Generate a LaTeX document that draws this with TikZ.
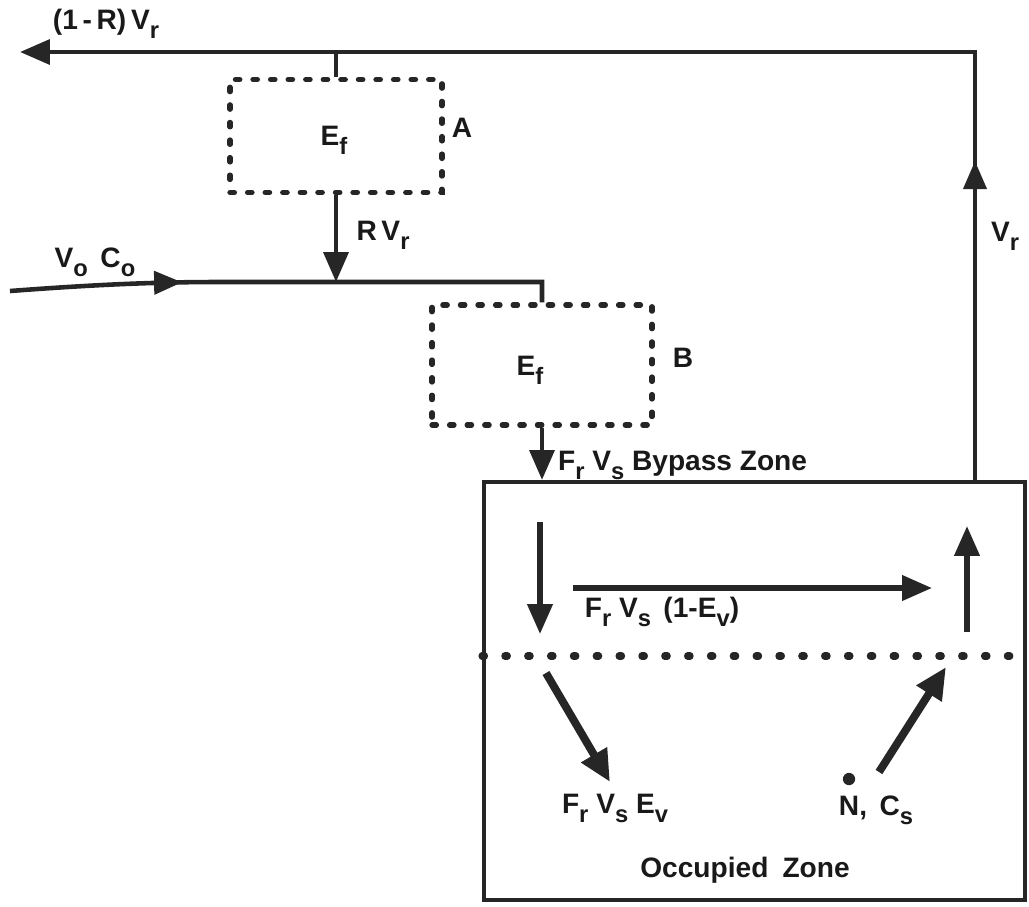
\documentclass[tikz,border=0pt]{standalone}
\usepackage{fontspec}
\setmainfont{Liberation Sans}
\usetikzlibrary{arrows.meta,decorations.markings}
\newcommand{\sbs}[1]{\raisebox{-0.6ex}{\fontsize{13.5}{13.5}\selectfont #1}}
\begin{document}
\begin{tikzpicture}[x=0.02cm,y=-0.02cm,
  font=\fontsize{16}{19}\selectfont\bfseries,
  ink/.style={draw=black!85},
  line/.style={ink, line width=2.6pt, line join=miter},
  thinline/.style={ink, line width=3pt},
  bigtip/.style={-{Triangle[length=17pt,width=14pt]}},
  fat/.style={ink, line width=4.5pt, -{Triangle[length=18pt,width=16pt]}},
  midtip/.style={postaction={decorate}, decoration={markings,
      mark=at position #1 with {\arrow{Triangle[length=16pt,width=13pt]}}}},
  dbox/.style={ink, line width=3pt, dash pattern=on 2.5pt off 7.5pt,
      line cap=round, inner sep=0pt, rectangle},
  zonebox/.style={ink, line width=2.4pt, rectangle, inner sep=0pt},
  lbl/.style={inner sep=1pt, text=black!90},
  dots/.style={ink, line width=4pt, dash pattern=on 1.5pt off 11.5pt, line cap=round}
]
\useasboundingbox (0,0) rectangle (1029,907);

% boxes
\node[dbox, minimum width=4.24cm, minimum height=2.26cm] (boxA) at (336,136) {};
\node[lbl] (ef1) at (334,140) {E\sbs{f}};
\node[dbox, minimum width=4.4cm, minimum height=2.4cm] (boxB) at (542,365) {};
\node[lbl] (ef2) at (530,370) {E\sbs{f}};
\node[zonebox, minimum width=10.82cm, minimum height=8.36cm] (zone) at (754.5,691) {};

% coordinates
\coordinate (cTR) at (975,52);
\coordinate (outL) at (20,52);
\coordinate (inL) at (10,291);
\coordinate (jB) at (542,282);

% return path
\draw[line, bigtip, midtip=6.38cm] (zone.north -| cTR) -- (cTR) -- (outL);
\draw[line] (boxA.north) -- (boxA.north |- cTR);
% recirculated air
\draw[line, bigtip] (boxA.south) -- (boxA.south |- jB);
% supply line
\draw[line, midtip=3.45cm] (inL) .. controls (90,285) and (150,282) .. (220,282) -- (jB) -- (boxB.north);
% into zone
\draw[line, bigtip] (boxB.south) -- (boxB.south |- zone.north);

% inside zone
\coordinate (d1a) at (540,522);
\coordinate (d1b) at (540,634);
\coordinate (h1a) at (573,588);
\coordinate (h1b) at (932,588);
\coordinate (u1a) at (967,632);
\coordinate (u1b) at (967,526);
\draw[thinline, bigtip] (d1a) -- (d1b);
\draw[thinline, bigtip] (h1a) -- (h1b);
\draw[thinline, bigtip] (u1a) -- (u1b);
\draw[dots] (zone.west |- 0,656) -- (1020,656);
\coordinate (g1a) at (546,673);
\coordinate (g1b) at (610,782);
\coordinate (g2a) at (879,772);
\coordinate (g2b) at (946,667);
\draw[fat] (g1a) -- (g1b);
\draw[fat] (g2a) -- (g2b);

% labels
\node[lbl] (lOut) at (106,24) {(1\,-\,R)\,V\sbs{r}};
\node[lbl] (lA) at (462,128) {A};
\node[lbl] (lRV) at (383,235) {R\,V\sbs{r}};
\node[lbl] (lIn) at (95,262) {V\sbs{o}\, C\sbs{o}};
\node[lbl] (lB) at (683,358) {B};
\node[lbl] (lVr) at (1005,236) {V\sbs{r}};
\node[lbl, anchor=west] (lBy) at (556,465) {F\sbs{r} V\sbs{s} Bypass Zone};
\node[lbl] (lH) at (662,612) {F\sbs{r} V\sbs{s}\, (1-E\sbs{v})};
\node[lbl] (lEv) at (615,808) {F\sbs{r} V\sbs{s} E\sbs{v}};
\node[lbl] (lN) at (876,810) {N,\, C\sbs{s}};
\node[circle, fill=black!85, inner sep=0pt, minimum size=7pt] (ndot) at (849,779) {};
\node[lbl] (lOcc) at (745,870) {Occupied\enspace Zone};
\end{tikzpicture}
\end{document}
